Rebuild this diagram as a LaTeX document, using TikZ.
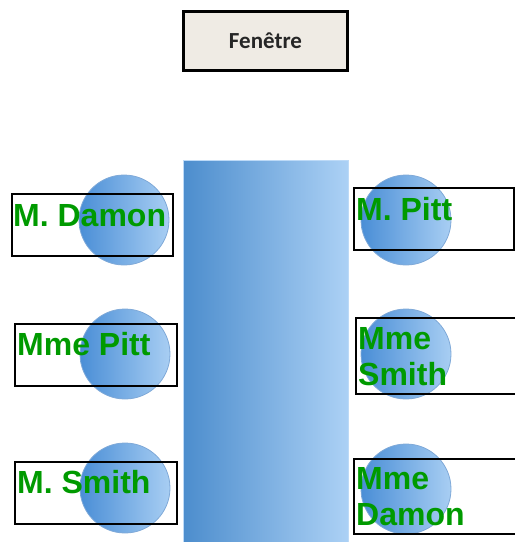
\documentclass[tikz,border=0pt]{standalone}
\usepackage{fontspec}
\setmainfont{Liberation Sans}
\newfontfamily\winfont{Carlito}
\usetikzlibrary{positioning}
\definecolor{chairdark}{HTML}{4A8ED6}
\definecolor{chairlight}{HTML}{A8CEF3}
\definecolor{chairedge}{HTML}{7FA9D8}
\definecolor{tabledark}{HTML}{4C8DCD}
\definecolor{tablelight}{HTML}{ACD1F5}
\definecolor{winfill}{HTML}{EFEBE4}
\definecolor{namegreen}{HTML}{009A00}
\tikzset{
  chair/.style={circle, minimum size=90pt, inner sep=0pt, draw=chairedge, line width=0.8pt,
                left color=chairdark, right color=chairlight},
  namebox/.style={draw=black, line width=2.6pt},
  guest/.style={anchor=base west, inner sep=0pt, text=namegreen, align=left,
                font=\fontsize{32}{36}\selectfont\bfseries}
}
\begin{document}
\begin{tikzpicture}[x=1pt,y=-1pt]
					\useasboundingbox (0,0) rectangle (515,542);
					%Window and table
					\node[draw=black, line width=3pt, fill=winfill, minimum width=164pt, minimum height=59pt,
					      font=\winfont\fontsize{23}{26}\selectfont\bfseries, text=black!85] (window) at (265.5,41) {Fenêtre};
					\shade[left color=tabledark, right color=tablelight, draw=tablelight!80!white] (183,160) rectangle (348,546);

					%Chairs
					\node[chair] (chairL1) at (124,220) {};
					\node[chair] (chairL2) at (125,354) {};
					\node[chair] (chairL3) at (125,488) {};
					\node[chair] (chairR1) at (406,220) {};
					\node[chair] (chairR2) at (406,354) {};
					\node[chair] (chairR3) at (406,489) {};

					%Boxes
					\draw[namebox] (12,194) rectangle (173,256);
					\draw[namebox] (354,188) rectangle (514,250);
					\draw[namebox] (15,324) rectangle (177,386);
					\draw[namebox] (356,318) rectangle (518,394);
					\draw[namebox] (15,462) rectangle (177,524);
					\draw[namebox] (354,459) rectangle (518,534);

					%Names (multi-line ones sit on their last baseline)
					\node[guest] (mdamon) at (13,226) {M. Damon};
					\node[guest] (mpitt) at (356,220) {M. Pitt};
					\node[guest] (mmepitt) at (17,355) {Mme Pitt};
					\node[guest] (mmesmith) at (358,385) {Mme\\Smith};
					\node[guest] (msmith) at (17,493) {M. Smith};
					\node[guest] (mmedamon) at (356,525) {Mme\\Damon};

				\end{tikzpicture}
\end{document}
